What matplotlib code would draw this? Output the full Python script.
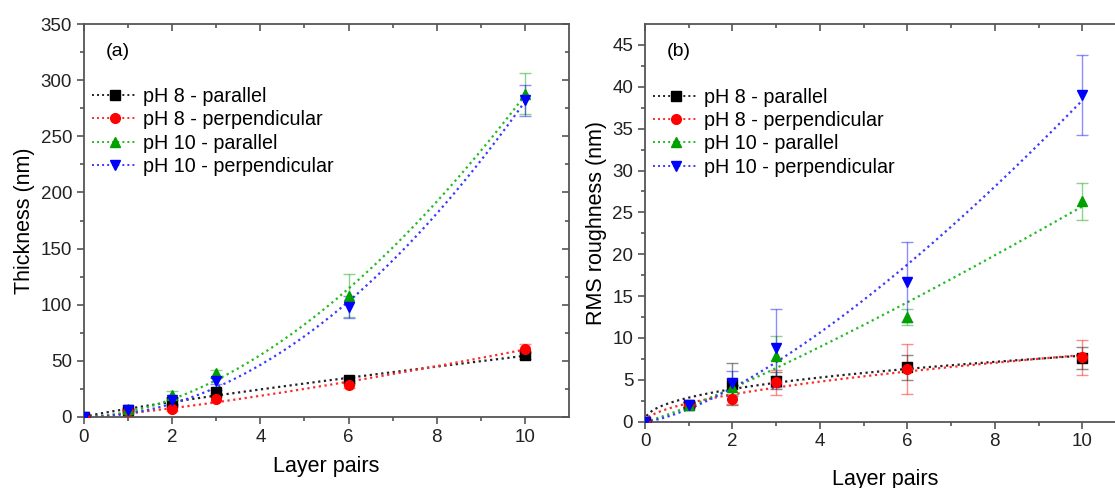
import numpy as np
import matplotlib.pyplot as plt
from matplotlib.lines import Line2D

plt.rcParams['font.family'] = ['Liberation Sans', 'DejaVu Sans']

layers = np.array([0, 1, 2, 3, 6, 10])
labels = ["pH 8 - parallel", "pH 8 - perpendicular",
          "pH 10 - parallel", "pH 10 - perpendicular"]

# (a) thickness, nm
thick_p8_par = [0, 6, 13, 22, 33, 55]
thick_p8_perp = [0, 5, 7, 16, 28.5, 61]
thick_p10_par = [0, 7, 20, 39, 108, 288]
thick_p10_perp = [0, 6, 15, 32, 98, 282]
thick_err_p8_par = [0, 1, 2, 2, 3, 3]
thick_err_p8_perp = [0, 1, 2, 2, 3, 4]
thick_err_p10_par = [0, 1, 3, 3, 19, 18]
thick_err_p10_perp = [0, 1, 3, 3, 10, 14]

# (b) RMS roughness, nm
rms_p8_par = [0, 2.0, 4.5, 4.9, 6.5, 7.6]
rms_p8_perp = [0, 2.0, 2.7, 4.7, 6.3, 7.7]
rms_p10_par = [0, 2.0, 4.2, 7.8, 12.5, 26.3]
rms_p10_perp = [0, 2.0, 4.6, 8.8, 16.7, 39.0]
rms_err_p8_par = [0, 0.3, 2.5, 1.0, 1.5, 1.3]
rms_err_p8_perp = [0, 0.3, 0.6, 1.5, 3.0, 2.1]
rms_err_p10_par = [0, 0.3, 1.0, 2.4, 1.0, 2.2]
rms_err_p10_perp = [0, 0.3, 1.5, 4.7, 4.8, 4.8]

colors = ['black', '#ff0000', '#00a000', '#0000ff']
line_colors = ['#222222', '#ff2a2a', '#22bb22', '#3a3aff']
markers = ['s', 'o', '^', 'v']
DOT = (0, (1, 1.6))


def power_fit(x, y):
    # least squares fit of y = a * x**b (through the origin)
    best = None
    for b in np.linspace(0.2, 3.0, 1401):
        xb = x ** b
        a = np.sum(y * xb) / np.sum(xb * xb)
        sse = np.sum((y - a * xb) ** 2)
        if best is None or sse < best[0]:
            best = (sse, a, b)
    return best[1], best[2]


def draw_panel(ax, series, errors):
    xs = np.linspace(0, 10, 200)
    for i, (y, e) in enumerate(zip(series, errors)):
        y = np.asarray(y, float)
        a, b = power_fit(layers.astype(float), y)
        ax.plot(xs, a * xs ** b, ls=DOT, lw=1.6, color=line_colors[i], zorder=2)
        ax.errorbar(layers, y, yerr=e, fmt='none', ecolor=colors[i],
                    alpha=0.45, elinewidth=1, capsize=4, capthick=1, zorder=3)
        ax.plot(layers, y, ls='none', marker=markers[i], ms=7,
                color=colors[i], zorder=4)
    handles = [Line2D([], [], color=line_colors[i], ls=DOT, lw=1.4,
                      marker=markers[i], mfc=colors[i], mec=colors[i], ms=7)
               for i in range(4)]
    ax.legend(handles, labels, loc='upper left', bbox_to_anchor=(-0.012, 0.875),
              frameon=False, fontsize=14.2, handlelength=2.3,
              handletextpad=0.3, labelspacing=0.22, borderaxespad=0.3)

    for s in ax.spines.values():
        s.set_color('#555555')
        s.set_linewidth(1.3)
    ax.tick_params(which='both', direction='out', colors='#555555',
                   labelcolor='#222222', labelsize=13.5, width=1.2)
    ax.tick_params(which='major', length=5)
    ax.tick_params(which='minor', length=3)
    ax.set_xlim(0, 11)
    ax.set_xticks([0, 2, 4, 6, 8, 10])
    ax.set_xticks([1, 3, 5, 7, 9], minor=True)
    top = ax.secondary_xaxis('top')
    top.set_xticks([0, 2, 4, 6, 8, 10])
    top.set_xticks([1, 3, 5, 7, 9], minor=True)
    top.tick_params(which='both', direction='in', labeltop=False,
                    colors='#555555', width=1.2)
    top.tick_params(which='major', length=5)
    top.tick_params(which='minor', length=3)
    top.spines['top'].set_visible(False)
    return ax


fig = plt.figure(figsize=(11.15, 4.88), dpi=100)
ax1 = fig.add_axes([0.0753, 0.1455, 0.435, 0.8053])
ax2 = fig.add_axes([0.5785, 0.1359, 0.4314, 0.8149])

draw_panel(ax1, [thick_p8_par, thick_p8_perp, thick_p10_par, thick_p10_perp],
           [thick_err_p8_par, thick_err_p8_perp, thick_err_p10_par, thick_err_p10_perp])
ax1.set_ylim(0, 350)
ax1.set_yticks(np.arange(0, 351, 50))
ax1.set_yticks(np.arange(25, 350, 50), minor=True)
ax1.set_ylabel("Thickness (nm)", fontsize=15.5, labelpad=4)
ax1.set_xlabel("Layer pairs", fontsize=15.5, labelpad=7)
ax1.text(0.045, 0.93, "(a)", transform=ax1.transAxes, fontsize=14,
         va='center')

draw_panel(ax2, [rms_p8_par, rms_p8_perp, rms_p10_par, rms_p10_perp],
           [rms_err_p8_par, rms_err_p8_perp, rms_err_p10_par, rms_err_p10_perp])
ax2.set_ylim(0, 47.5)
ax2.set_yticks(np.arange(0, 46, 5))
ax2.set_yticks(np.arange(2.5, 47.5, 5), minor=True)
ax2.set_ylabel("RMS roughness (nm)", fontsize=15.5, labelpad=4)
ax2.set_xlabel("Layer pairs", fontsize=15.5, labelpad=13)
ax2.text(0.045, 0.93, "(b)", transform=ax2.transAxes, fontsize=14,
         va='center')

for ax in (ax1, ax2):
    right = ax.secondary_yaxis('right')
    right.set_yticks(ax.get_yticks())
    right.set_yticks(ax.get_yticks(minor=True), minor=True)
    right.tick_params(which='both', direction='in', labelright=False,
                      colors='#555555', width=1.2)
    right.tick_params(which='major', length=5)
    right.tick_params(which='minor', length=3)
    right.spines['right'].set_visible(False)

fig.savefig("out.png", dpi=100)
